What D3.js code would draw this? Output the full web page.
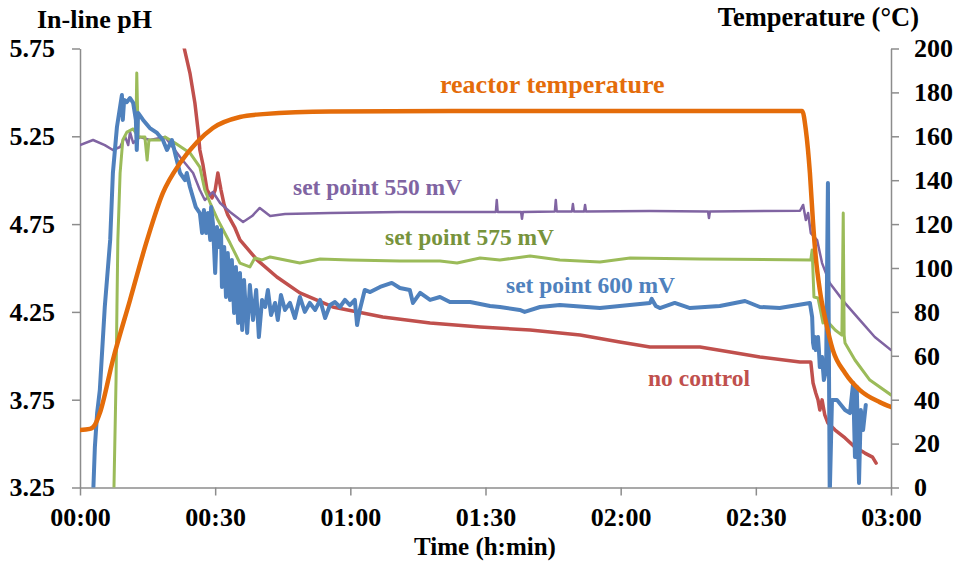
<!DOCTYPE html>
<html>
<head>
<meta charset="UTF-8">
<script src="https://d3js.org/d3.v7.min.js"></script>
<style>
  body { margin: 0; background: #fff; }
  svg text { font-family: "Liberation Serif", "Times New Roman", serif; font-weight: bold; }
</style>
</head>
<body>
<svg></svg>
<script>
const width = 960, height = 563;

// time in minutes, pH values (left axis)
const ph550 = [[0,5.20],[2.9,5.229],[5.5,5.20],[7.3,5.172],[8.9,5.189],[10.0,5.25],[10.7,5.20],[11.1,5.274],[11.8,5.212],[13.3,5.246],[15.5,5.229],[18.9,5.246],[22.2,5.132],[25.1,5.041],[26.6,4.944],[27.7,4.887],[29.5,4.933],[31.1,4.870],[33.3,4.819],[36.2,4.762],[38.2,4.796],[39.9,4.842],[42.2,4.796],[45.5,4.807],[55.5,4.813],[71.0,4.819],[92.3,4.819],[92.5,4.887],[92.7,4.819],[97.9,4.819],[98.1,4.780],[98.3,4.819],[105.4,4.822],[105.6,4.887],[105.8,4.822],[109.2,4.822],[109.4,4.864],[109.6,4.822],[111.9,4.822],[112.1,4.859],[112.3,4.822],[126.5,4.825],[139.4,4.822],[139.6,4.785],[139.8,4.822],[159.8,4.826],[160.5,4.859],[161.1,4.773],[161.6,4.813],[162.2,4.699],[163.6,4.659],[164.7,4.528],[166.4,4.414],[169.8,4.300],[173.1,4.203],[176.4,4.107],[180,4.033]];

const ph575 = [[7.5,3.20],[8.0,3.862],[8.2,4.278],[8.4,4.66],[8.9,5.041],[9.5,5.229],[10.4,5.274],[11.8,5.292],[12.4,5.269],[12.6,5.610],[12.9,5.246],[14.4,5.246],[14.9,5.115],[15.3,5.229],[17.8,5.229],[18.9,5.246],[21.1,5.212],[24.4,5.155],[26.6,5.075],[27.7,4.944],[28.9,4.870],[30.6,4.773],[33.3,4.642],[35.5,4.528],[37.7,4.506],[38.8,4.557],[40.4,4.546],[42.2,4.563],[46.6,4.540],[48.8,4.528],[53.3,4.551],[59.9,4.546],[71.0,4.540],[79.9,4.540],[83.7,4.528],[88.8,4.557],[93.2,4.546],[99.9,4.568],[106.5,4.546],[115.4,4.534],[122.1,4.557],[137.6,4.551],[162.2,4.546],[162.5,4.603],[162.9,4.335],[163.8,4.329],[164.2,4.278],[164.9,4.187],[165.6,4.204],[167.6,4.147],[169.1,4.118],[169.4,4.813],[169.6,4.118],[169.8,4.073],[172.0,3.976],[175.3,3.862],[180,3.777]];

const ph600 = [[2.9,3.20],[3.3,3.480],[3.8,3.674],[4.4,3.805],[5.5,4.278],[6.7,4.660],[7.3,5.041],[8.2,5.303],[9.3,5.485],[9.5,5.343],[9.8,5.457],[10.4,5.445],[11.1,5.468],[11.8,5.440],[12.4,5.343],[12.6,5.172],[12.9,5.383],[14.0,5.343],[15.5,5.297],[17.1,5.269],[18.4,5.229],[19.3,5.172],[20.4,5.229],[21.3,5.132],[22.2,5.041],[23.3,5.001],[23.7,5.041],[24.4,4.961],[25.7,4.847],[26.6,4.813],[27.1,4.699],[27.5,4.830],[28.0,4.699],[28.4,4.813],[28.9,4.660],[29.1,4.847],[29.5,4.756],[30.0,4.472],[30.4,4.733],[30.8,4.620],[31.3,4.716],[31.5,4.392],[32.0,4.620],[32.4,4.335],[32.8,4.585],[33.3,4.318],[33.7,4.546],[34.2,4.244],[34.6,4.506],[35.1,4.187],[35.5,4.472],[36.0,4.147],[36.4,4.432],[37.1,4.130],[37.7,4.403],[38.4,4.204],[39.1,4.375],[39.7,4.107],[40.4,4.318],[41.1,4.278],[41.7,4.375],[42.4,4.232],[43.3,4.301],[43.9,4.204],[44.6,4.346],[45.5,4.261],[46.6,4.301],[47.7,4.215],[48.8,4.335],[49.9,4.250],[51.0,4.301],[52.2,4.261],[53.3,4.318],[54.4,4.215],[55.5,4.289],[56.6,4.306],[57.7,4.278],[58.8,4.318],[59.9,4.289],[61.0,4.318],[61.5,4.175],[62.1,4.261],[63.2,4.375],[64.4,4.363],[66.6,4.392],[69.2,4.415],[71.0,4.386],[73.2,4.375],[73.9,4.301],[75.5,4.358],[77.7,4.318],[79.9,4.335],[82.1,4.306],[86.6,4.306],[91.0,4.284],[93.2,4.278],[97.6,4.261],[98.7,4.250],[102.1,4.278],[106.5,4.289],[115.4,4.272],[119.8,4.284],[126.5,4.301],[126.9,4.324],[127.8,4.284],[128.7,4.272],[132.0,4.301],[135.4,4.272],[142.0,4.284],[147.6,4.312],[150.9,4.278],[155.3,4.272],[162.0,4.301],[162.5,4.221],[162.7,4.073],[162.9,4.044],[163.1,4.107],[163.3,4.033],[163.8,4.107],[164.0,4.033],[164.2,3.936],[164.7,3.993],[165.1,3.862],[165.6,3.919],[166.0,4.984],[166.4,3.20],[166.9,3.749],[168.0,3.749],[169.8,3.691],[170.9,3.674],[171.6,3.845],[172.0,3.424],[172.4,3.822],[172.9,3.276],[173.3,3.691],[173.8,3.577],[174.4,3.720]];

const phNoControl = [[22.7,5.80],[24.4,5.610],[25.5,5.440],[26.2,5.286],[26.6,5.172],[27.3,5.087],[28.2,4.944],[29.3,4.899],[30.0,4.944],[30.6,5.041],[31.3,4.944],[32.0,4.859],[32.8,4.802],[34.4,4.728],[35.5,4.660],[39.3,4.546],[43.7,4.449],[48.8,4.358],[56.1,4.278],[67.2,4.221],[77.7,4.187],[88.8,4.164],[99.9,4.147],[111.0,4.118],[119.8,4.079],[126.5,4.050],[137.6,4.050],[144.3,4.022],[150.9,3.993],[159.8,3.965],[162.2,3.965],[162.7,3.845],[163.3,3.788],[163.8,3.749],[164.2,3.691],[164.7,3.749],[165.3,3.663],[166.0,3.617],[167.6,3.577],[169.8,3.532],[172.0,3.480],[174.2,3.446],[175.9,3.423],[176.7,3.389]];

// time in minutes, reactor temperature in °C (right axis)
const tempReactor = [[0,26.2],[2.2,26.7],[3.3,28.5],[4.4,33.9],[7.3,58.1],[11.1,85.4],[14.9,112.8],[18.4,134.2],[22.2,147.8],[26.0,157.4],[29.5,163.8],[35.5,168.8],[40.6,170.1],[55.5,171.3],[100,171.5],[160.3,171.5],[161.1,162.9],[162.0,143.3],[162.7,120.5],[163.3,105],[164.2,90],[165.6,75],[167.1,62.6],[169.8,52.2],[173.1,44.4],[177.5,38.9],[180,36.7]];

const timeTicks = [0, 30, 60, 90, 120, 150, 180];
const phTicks = [3.25, 3.75, 4.25, 4.75, 5.25, 5.75];
const tempTicks = [0, 20, 40, 60, 80, 100, 120, 140, 160, 180, 200];

const plotLeft = 80, plotRight = 891, plotTop = 48.5, plotBottom = 487.5;

const svg = d3.select("svg").attr("width", width).attr("height", height);

const x = d3.scaleLinear().domain([0, 180]).range([plotLeft, plotRight]);
const yPh = d3.scaleLinear().domain([3.25, 5.75]).range([plotBottom, plotTop]);
const yT = d3.scaleLinear().domain([0, 200]).range([plotBottom, plotTop]);

svg.append("clipPath").attr("id", "plot")
  .append("rect").attr("x", plotLeft).attr("y", plotTop)
  .attr("width", plotRight - plotLeft).attr("height", plotBottom - plotTop);

const fmtTime = m => d3.format("02d")(Math.floor(m / 60)) + ":" + d3.format("02d")(m % 60);

// axes
const gx = svg.append("g").attr("transform", `translate(0,${plotBottom})`)
  .call(d3.axisBottom(x).tickValues(timeTicks).tickFormat(fmtTime).tickSize(8).tickPadding(12).tickSizeOuter(0));
const gl = svg.append("g").attr("transform", `translate(${plotLeft},0)`)
  .call(d3.axisLeft(yPh).tickValues(phTicks).tickFormat(d3.format(".2f")).tickSize(8).tickPadding(17).tickSizeOuter(0));
const gr = svg.append("g").attr("transform", `translate(${plotRight},0)`)
  .call(d3.axisRight(yT).tickValues(tempTicks).tickSize(8).tickPadding(15).tickSizeOuter(0));

[gx, gl, gr].forEach(g => {
  g.selectAll("path, line").attr("stroke", "#8c8c8c").attr("stroke-width", 1.5);
  g.selectAll("text").attr("fill", "#000").style("font-size", "26px")
    .style("font-family", '"Liberation Serif", "Times New Roman", serif').style("font-weight", "bold");
});

// series
const linePh = d3.line().x(d => x(d[0])).y(d => yPh(d[1]));
const lineT = d3.line().x(d => x(d[0])).y(d => yT(d[1])).curve(d3.curveMonotoneX);

const plot = svg.append("g").attr("clip-path", "url(#plot)");
const series = [
  { data: phNoControl, color: "#c0504d", w: 3.5, gen: linePh },
  { data: ph550, color: "#8064a2", w: 2.5, gen: linePh },
  { data: ph575, color: "#9bbb59", w: 3, gen: linePh },
  { data: ph600, color: "#4f81bd", w: 4, gen: linePh },
  { data: tempReactor, color: "#e46c0a", w: 4.5, gen: lineT }
];
series.forEach(s => {
  plot.append("path")
    .attr("d", s.gen(s.data))
    .attr("fill", "none")
    .attr("stroke", s.color)
    .attr("stroke-width", s.w)
    .attr("stroke-linejoin", "round")
    .attr("stroke-linecap", "round");
});

// annotations
const notes = [
  { text: "reactor temperature", x: 440, y: 93, color: "#e46c0a", size: 26 },
  { text: "set point 550 mV", x: 293, y: 195, color: "#8064a2", size: 23.5 },
  { text: "set point 575 mV", x: 385, y: 245, color: "#77933c", size: 23.5 },
  { text: "set point 600 mV", x: 506, y: 293, color: "#4f81bd", size: 23.5 },
  { text: "no control", x: 648, y: 386, color: "#c0504d", size: 23.5 }
];
svg.selectAll(".note").data(notes).enter().append("text")
  .attr("class", "note")
  .attr("x", d => d.x).attr("y", d => d.y)
  .attr("fill", d => d.color)
  .style("font-size", d => d.size + "px")
  .text(d => d.text);

// axis titles
svg.append("text").attr("x", 37).attr("y", 28).style("font-size", "26px").text("In-line pH");
svg.append("text").attr("x", 919).attr("y", 26).attr("text-anchor", "end").style("font-size", "26.5px").text("Temperature (°C)");
svg.append("text").attr("x", 485).attr("y", 555).attr("text-anchor", "middle").style("font-size", "25px").text("Time (h:min)");
</script>
</body>
</html>
